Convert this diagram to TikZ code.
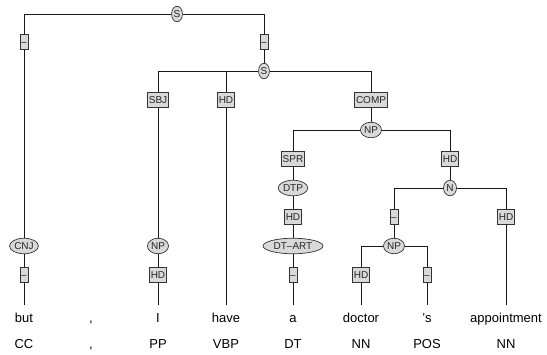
\documentclass[tikz,border=0pt]{standalone}
\usepackage{fontspec}
\setmainfont{Liberation Sans}
\usetikzlibrary{shapes.geometric}

\begin{document}
\begin{tikzpicture}[x=1pt,y=-1pt,
  lbl/.style={draw=black!80, fill=black!15, line width=0.7pt,
    font=\fontsize{10}{12}\selectfont, text=black!85,
    text height=7.2pt, text depth=0pt},
  fn/.style={lbl, rectangle, inner xsep=1.2pt, inner ysep=0pt, minimum height=15pt},
  cat/.style={lbl, ellipse, inner xsep=0.5pt, inner ysep=0pt, minimum height=15.5pt},
  word/.style={font=\fontsize{13}{15}\selectfont, anchor=base,
    text height=9.5pt, text depth=3pt, inner ysep=7.5pt, inner xsep=0pt},
  tag/.style={font=\fontsize{13}{15}\selectfont, anchor=base},
  link/.style={draw=black!90, line width=0.8pt}]
\useasboundingbox (0,0) rectangle (547,354);

% words and part-of-speech tags
\node[word] (w1) at (24,322) {but};
\node[word] (w2) at (91,322) {,};
\node[word] (w3) at (158,322) {I};
\node[word] (w4) at (226,322) {have};
\node[word] (w5) at (293,322) {a};
\node[word] (w6) at (361,322) {doctor};
\node[word] (w7) at (427,322) {’s};
\node[word] (w8) at (506,322) {appointment};

\node[tag] (t1) at (24,348) {CC};
\node[tag] (t2) at (91,348) {,};
\node[tag] (t3) at (158,348) {PP};
\node[tag] (t4) at (226,348) {VBP};
\node[tag] (t5) at (293,348) {DT};
\node[tag] (t6) at (361,348) {NN};
\node[tag] (t7) at (427,348) {POS};
\node[tag] (t8) at (506,348) {NN};

% categories and functions
\node[cat] (s1) at (177,14) {S};
\node[fn] (f1) at (24,42) {–};
\node[fn] (f2) at (264,42) {–};
\node[cat] (s2) at (264,71) {S};
\node[cat] (cnj) at (24,246) {CNJ};
\node[fn] (f3) at (24,275) {–};
\node[fn] (sbj) at (158,100) {SBJ};
\node[fn] (hd1) at (226,100) {HD};
\node[fn] (comp) at (371,100) {COMP};
\node[cat] (np1) at (158,246) {NP};
\node[fn] (hd2) at (158,275) {HD};
\node[cat] (np2) at (371,130) {NP};
\node[fn] (spr) at (293,159) {SPR};
\node[fn] (hd3) at (450,159) {HD};
\node[cat] (dtp) at (293,188) {DTP};
\node[cat, minimum width=13pt] (n) at (450,188) {N};
\node[fn] (hd4) at (293,217) {HD};
\node[fn] (f4) at (394,217) {–};
\node[fn] (hd5) at (506,217) {HD};
\node[cat, minimum width=60pt] (art) at (293,246) {DT–ART};
\node[cat] (np3) at (394,246) {NP};
\node[fn] (f5) at (293,275) {–};
\node[fn] (hd6) at (361,275) {HD};
\node[fn] (f6) at (427,275) {–};

% tree edges
\draw[link] (s1) -| (f1) -- (cnj) -- (f3) -- (w1);
\draw[link] (s1) -| (f2) -- (s2);
\draw[link] (s2) -| (sbj) -- (np1) -- (hd2) -- (w3);
\draw[link] (s2) -| (hd1) -- (w4);
\draw[link] (s2) -| (comp) -- (np2);
\draw[link] (np2) -| (spr) -- (dtp) -- (hd4) -- (art) -- (f5) -- (w5);
\draw[link] (np2) -| (hd3) -- (n);
\draw[link] (n) -| (f4) -- (np3);
\draw[link] (np3) -| (hd6) -- (w6);
\draw[link] (np3) -| (f6) -- (w7);
\draw[link] (n) -| (hd5) -- (w8);
\end{tikzpicture}
\end{document}
